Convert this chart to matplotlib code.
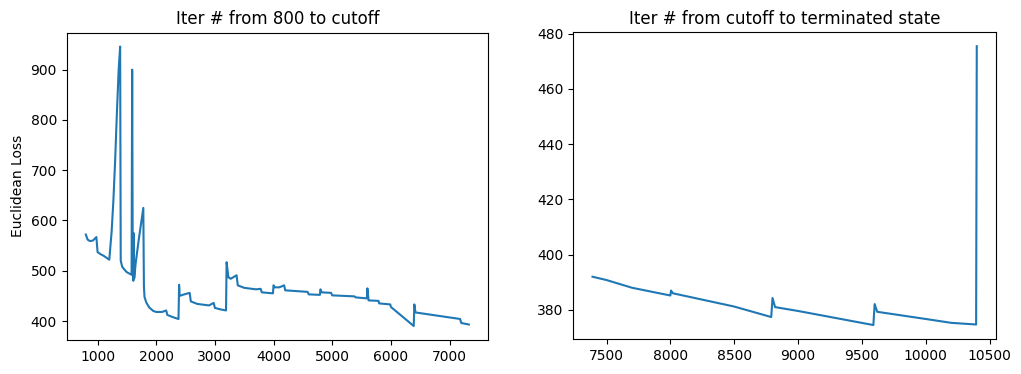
import matplotlib
matplotlib.use("Agg")
import matplotlib.pyplot as plt

# iterations 800 -> cutoff
iter_a = [800, 830, 870, 920, 980, 1000, 1050, 1100, 1200, 1240, 1270, 1300, 1330, 1360,
          1385, 1395, 1420, 1460, 1500, 1580, 1590, 1600, 1610, 1615, 1625, 1650, 1700,
          1780, 1790, 1800, 1830, 1880, 1950, 2000, 2100, 2170, 2190, 2300, 2380, 2390,
          2400, 2450, 2570, 2590, 2700, 2900, 2980, 3000, 3100, 3190, 3200, 3230, 3270,
          3370, 3390, 3500, 3700, 3780, 3800, 3990, 4000, 4020, 4100, 4180, 4200, 4580,
          4600, 4790, 4800, 4820, 4980, 5000, 5380, 5400, 5590, 5600, 5620, 5790, 5800,
          5990, 6000, 6390, 6400, 6420, 7180, 7200, 7330]
loss_a = [572, 562, 559, 560, 567, 537, 533, 530, 522, 578, 640, 720, 815, 900,
          946, 520, 508, 502, 497, 492, 900, 495, 480, 575, 485, 515, 560,
          625, 470, 448, 437, 427, 420, 418, 418, 421, 412, 407, 404, 472,
          450, 452, 456, 439, 434, 431, 436, 426, 423, 421, 517, 487, 484,
          491, 471, 466, 463, 464, 457, 455, 471, 467, 467, 471, 461, 458,
          453, 452, 463, 457, 456, 451, 449, 447, 445, 465, 441, 440, 435,
          433, 428, 390, 433, 417, 404, 396, 393]

# iterations cutoff -> terminated
iter_b = [7390, 7500, 7700, 8000, 8005, 8020, 8500, 8790, 8800, 8820, 9000, 9590, 9600,
          9620, 10000, 10200, 10395, 10400]
loss_b = [392, 390.8, 388, 385.2, 387, 386, 381.2, 377.4, 384.3, 381, 379.6, 374.5, 382.1,
          379.3, 376.7, 375.3, 374.7, 475.5]

fig = plt.figure(figsize=(10.21, 3.74), dpi=100)
ax1 = fig.add_axes([0.0653, 0.0909, 0.4127, 0.822])
ax2 = fig.add_axes([0.5615, 0.0936, 0.414, 0.8202])

ax1.plot(iter_a, loss_a)
ax1.set_title("Iter # from 800 to cutoff")
ax1.set_ylabel("Euclidean Loss")

ax2.plot(iter_b, loss_b)
ax2.set_title("Iter # from cutoff to terminated state")

fig.savefig("out.png", dpi=100)
